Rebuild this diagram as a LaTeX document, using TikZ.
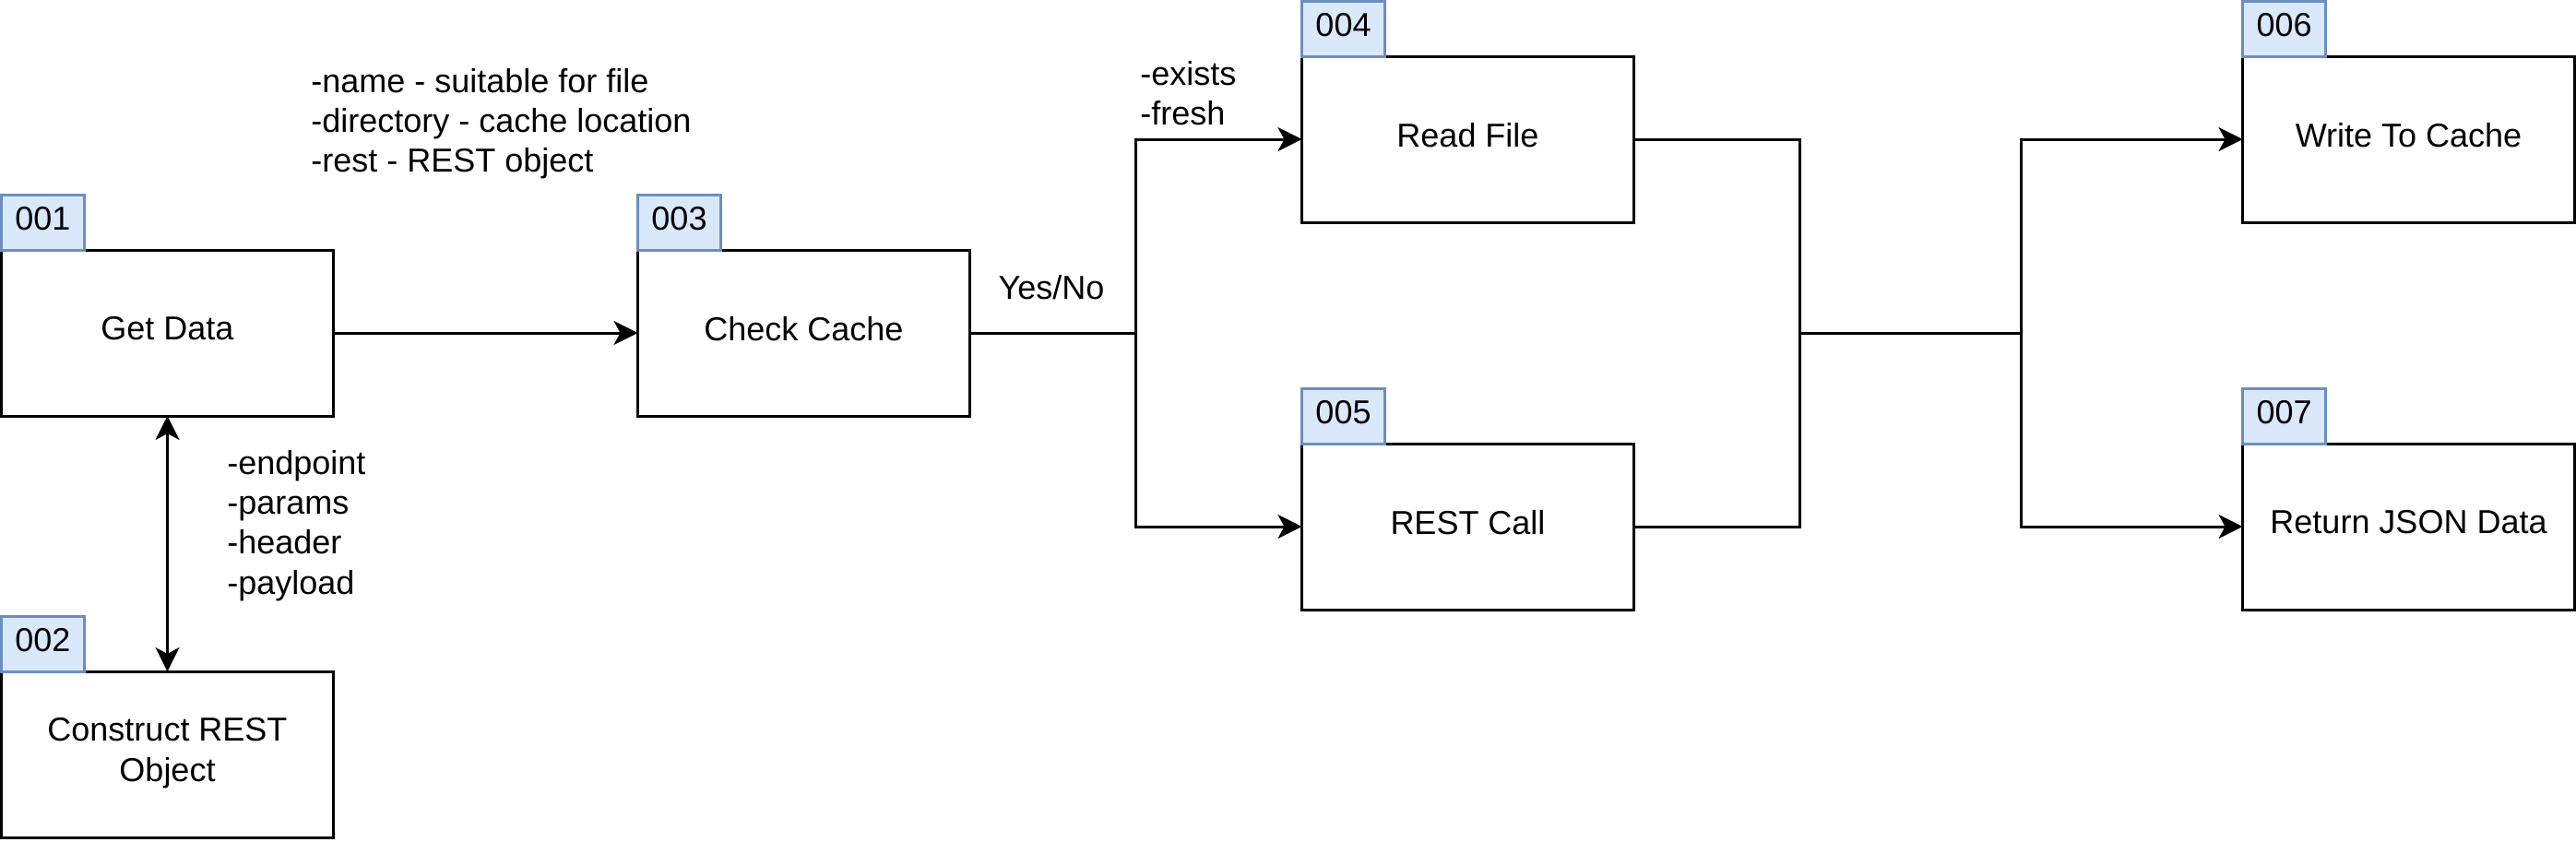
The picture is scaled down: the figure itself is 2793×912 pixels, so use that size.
\documentclass[tikz,border=0pt]{standalone}
\usepackage{fontspec}
\setmainfont{Liberation Sans}
\usetikzlibrary{positioning, arrows.meta}

\definecolor{tagfill}{HTML}{DAE8FC}
\definecolor{tagline}{HTML}{6C8EBF}

\tikzset{
	>={Stealth[length=13pt, width=13pt, inset=3.5pt]},
	box/.style={draw, line width=1.5pt, minimum width=180pt, minimum height=90pt, inner sep=0pt, outer sep=0pt, align=center, text depth=5pt},
	tag/.style={draw=tagline, fill=tagfill, line width=1.5pt, minimum width=45pt, minimum height=30pt, inner sep=0pt, outer sep=0pt, anchor=south west, text depth=4pt},
	note/.style={align=left, inner sep=0pt, anchor=west},
	wire/.style={line width=1.5pt},
}

\begin{document}
\begin{tikzpicture}[x=0.5pt, y=-0.5pt, font=\fontsize{18}{21.6}\selectfont]
		\useasboundingbox (0,0) rectangle (2793,912);
		\node[box] (getdata) at (181.5,361) {Get Data};
		\node[box, below=138.5pt of getdata] (construct) {Construct REST\\Object};
		\node[box, right=165pt of getdata] (checkcache) {Check Cache};
		\node[box, right=180pt of checkcache, yshift=105pt] (readfile) {Read File};
		\node[box, right=180pt of checkcache, yshift=-105pt] (restcall) {REST Call};
		\node[box, right=330pt of readfile] (writecache) {Write To Cache};
		\node[box, right=330pt of restcall] (returnjson) {Return JSON Data};
		\node[tag] (t001) at (getdata.north west) {001};
		\node[tag] (t002) at (construct.north west) {002};
		\node[tag] (t003) at (checkcache.north west) {003};
		\node[tag] (t004) at (readfile.north west) {004};
		\node[tag] (t005) at (restcall.north west) {005};
		\node[tag] (t006) at (writecache.north west) {006};
		\node[tag] (t007) at (returnjson.north west) {007};
		\node[note] (cachenote) at (337,134) {-name - suitable for file\\-directory - cache location\\-rest - REST object};
		\node[note] (restnote) at (246,570) {-endpoint\\-params\\-header\\-payload};
		\node[note] (filenote) at (1236,101) {-exists\\-fresh};
		\node[inner sep=0pt] (yesno) at (1140,312) {Yes/No};
		\coordinate (fork) at (1231,361);
		\coordinate (merge) at (1951,361);
		\coordinate (split) at (2191,361);
		\draw[wire, ->] (getdata) -- (checkcache);
		\draw[wire, <->] (getdata) -- (construct);
		\draw[wire] (checkcache) -- (fork);
		\draw[wire, ->] (fork) |- (readfile);
		\draw[wire, ->] (fork) |- (restcall);
		\draw[wire] (readfile) -| (merge);
		\draw[wire] (restcall) -| (merge);
		\draw[wire] (merge) -- (split);
		\draw[wire, ->] (split) |- (writecache);
		\draw[wire, ->] (split) |- (returnjson);
	\end{tikzpicture}
\end{document}
